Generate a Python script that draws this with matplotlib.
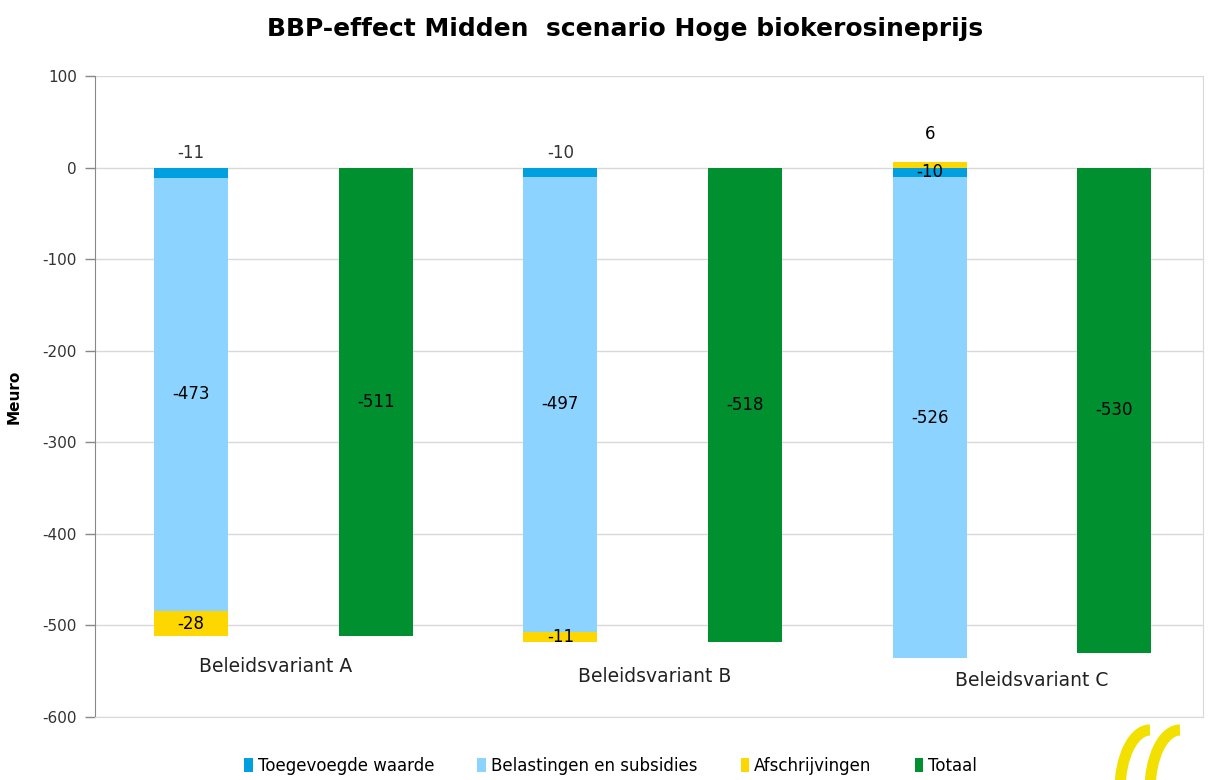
import numpy as np
import matplotlib.pyplot as plt
from matplotlib.patches import Arc

plt.rcParams["axes.unicode_minus"] = False

# waarden (Meuro)
varianten = ["Beleidsvariant A", "Beleidsvariant B", "Beleidsvariant C"]
toegevoegde_waarde = [-11, -10, -10]
belastingen = [-473, -497, -526]
afschrijvingen = [-28, -11, 6]
totaal = [-511, -518, -530]

kleur_tw = "#00A0E0"
kleur_bel = "#8DD3FF"
kleur_afs = "#FFD700"
kleur_tot = "#009030"

fig = plt.figure(figsize=(12.09, 7.80), dpi=100)
ax = fig.add_axes([95 / 1209, 1 - 717 / 780, 1108 / 1209, 641 / 780])

x_stack = np.arange(3) * 2
x_tot = x_stack + 1
w = 0.4

tw = np.array(toegevoegde_waarde)
bel = np.array(belastingen)
afs = np.array(afschrijvingen)

ax.bar(x_stack, tw, w, color=kleur_tw, label="Toegevoegde waarde", zorder=3)
ax.bar(x_stack, bel, w, bottom=tw, color=kleur_bel, label="Belastingen en subsidies", zorder=3)
# afschrijvingen: negatief onder de stapel, positief boven nul
afs_bottom = np.where(afs < 0, tw + bel, 0)
ax.bar(x_stack, afs, w, bottom=afs_bottom, color=kleur_afs, label="Afschrijvingen", zorder=3)
ax.bar(x_tot, totaal, w, color=kleur_tot, label="Totaal", zorder=3)

fs = 12
for i in range(3):
    # toegevoegde waarde
    if afs[i] < 0:
        ax.annotate(f"{tw[i]}", (x_stack[i], 0), xytext=(0, 4), textcoords="offset points",
                    ha="center", va="bottom", fontsize=fs, color="#333333")
    else:
        ax.text(x_stack[i], tw[i] / 2, f"{tw[i]}", ha="center", va="center", fontsize=fs)
    ax.text(x_stack[i], tw[i] + bel[i] / 2, f"{bel[i]}", ha="center", va="center", fontsize=fs)
    if afs[i] < 0:
        ax.text(x_stack[i], afs_bottom[i] + afs[i] / 2, f"{afs[i]}", ha="center", va="center", fontsize=fs)
    else:
        ax.annotate(f"{afs[i]}", (x_stack[i], afs[i]), xytext=(0, 14), textcoords="offset points",
                    ha="center", va="bottom", fontsize=fs)
    ax.text(x_tot[i], totaal[i] / 2, f"{totaal[i]}", ha="center", va="center", fontsize=fs)

# categorielabels los in het plotvlak
label_pos = [(0.46, -545), (2.51, -556), (4.55, -560)]
for naam, (lx, ly) in zip(varianten, label_pos):
    ax.text(lx, ly, naam, ha="center", va="center", fontsize=13.5, color="#222222")

ax.set_xlim(-0.52, 5.48)
ax.set_ylim(-600, 100)
ax.set_yticks(np.arange(-600, 101, 100))
ax.set_xticks([])
ax.tick_params(axis="y", labelsize=11, labelcolor="#333333", color="#888888", length=7, width=1, pad=6)
ax.grid(axis="y", color="#D9D9D9", linewidth=1, zorder=0)
ax.spines["left"].set_color("#888888")
ax.spines["top"].set_visible(False)
ax.spines["bottom"].set_color("#D9D9D9")
ax.spines["right"].set_color("#D9D9D9")
ax.set_ylabel("Meuro", fontsize=11, fontweight="bold")
ax.yaxis.set_label_coords(-0.066, 0.5)

fig.suptitle("BBP-effect Midden  scenario Hoge biokerosineprijs", fontsize=18, fontweight="bold",
             x=0.517, y=0.978, va="top")

leg = fig.legend(loc="center", bbox_to_anchor=(0.505, 0.018), ncol=4, frameon=False,
                 fontsize=12, handlelength=0.5, handleheight=0.9, handletextpad=0.3, columnspacing=2.6)

# eenvoudige benadering van het logo rechtsonder
for cx in (1150, 1180):
    arc = Arc((cx / 1209, 1 - 790 / 780), 60 / 1209, 120 / 780, angle=0, theta1=90, theta2=270,
              color="#F2E000", linewidth=8, transform=fig.transFigure, clip_on=False)
    fig.add_artist(arc)

fig.savefig("out.png", dpi=100)
